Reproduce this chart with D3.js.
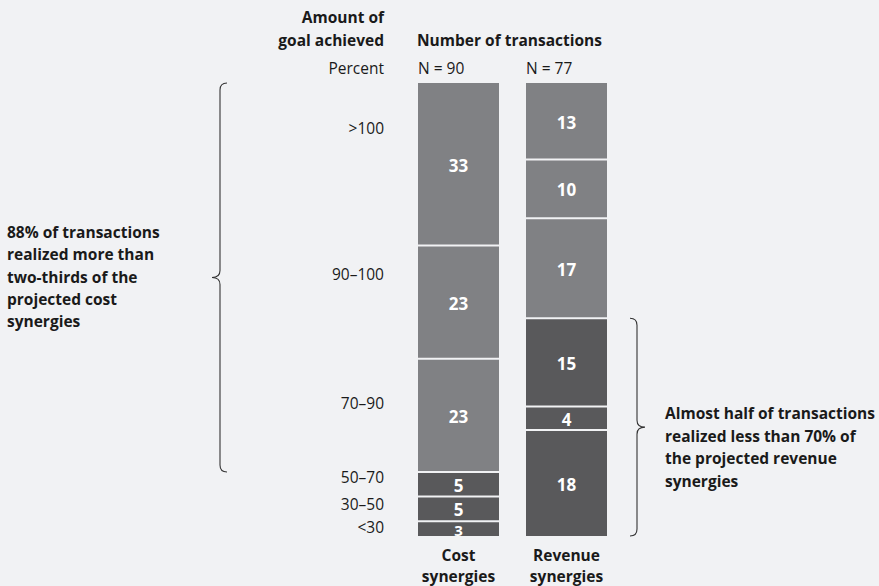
<!DOCTYPE html>
<html><head><meta charset="utf-8">
<script src="https://cdn.jsdelivr.net/npm/d3@7"></script>
<style>
body{margin:0;background:#f1f2f4;}
svg{display:block;font-family:"Open Sans",Lato,sans-serif;}
</style></head>
<body>
<script>
// Data (bottom to top)
const categories = ["<30","30–50","50–70","70–90","90–100",">100"];
const costValues = [3,5,5,23,23,33];
const revenueValues = [18,4,15,17,10,13];
const seriesNames = ["Cost synergies","Revenue synergies"];
const seriesN = ["N = 90","N = 77"];
const lowGroup = ["<30","30–50","50–70"];
// tick label anchors, percent of bar height
const tickPercent = [2.0,7.1,13.0,29.4,57.8,90.1];
const leftNote = ["88% of transactions","realized more than","two-thirds of the","projected cost","synergies"];
const rightNote = ["Almost half of transactions","realized less than 70% of","the projected revenue","synergies"];

const W=879,H=586;
const svg=d3.select("body").append("svg").attr("width",W).attr("height",H);
svg.append("rect").attr("width",W).attr("height",H).attr("fill","#f1f2f4");

const y=d3.scaleLinear().domain([0,100]).range([536,83]);
const x=d3.scaleBand().domain(seriesNames).range([418,607]).paddingInner(0.25).paddingOuter(0);
const color=c=>lowGroup.includes(c)?"#59595b":"#808184";
const ink="#1a1a1a";

const series=[costValues,revenueValues];
series.forEach((vals,si)=>{
  const total=d3.sum(vals);
  let cum=0;
  const segs=vals.map((v,i)=>{const s={cat:categories[i],v,p0:cum/total*100,p1:(cum+v)/total*100};cum+=v;return s;});
  const g=svg.append("g");
  const bx=x(seriesNames[si]), bw=x.bandwidth();
  g.selectAll("rect").data(segs).join("rect")
    .attr("x",bx).attr("width",bw)
    .attr("y",d=>y(d.p1)).attr("height",d=>y(d.p0)-y(d.p1))
    .attr("fill",d=>color(d.cat));
  g.selectAll("text").data(segs).join("text")
    .attr("x",bx+bw/2).attr("y",d=>y((d.p0+d.p1)/2)+1)
    .attr("text-anchor","middle").attr("dominant-baseline","central")
    .attr("fill","#fff").attr("font-weight","bold").attr("font-size",d=>(y(d.p0)-y(d.p1))<20?15:17)
    .text(d=>d.v);
  g.selectAll("line").data(segs.slice(1)).join("line")
    .attr("x1",bx).attr("x2",bx+bw)
    .attr("y1",d=>y(d.p0)).attr("y2",d=>y(d.p0))
    .attr("stroke","#f1f2f4").attr("stroke-width",2);
  svg.append("text").attr("x",bx).attr("y",68).attr("dominant-baseline","central")
    .attr("font-size",15.5).attr("fill",ink).text(seriesN[si]);
  const nm=seriesNames[si].split(" ");
  nm.forEach((t,k)=>svg.append("text").attr("x",bx+bw/2).attr("y",555+k*21)
    .attr("text-anchor","middle").attr("dominant-baseline","central")
    .attr("font-weight","bold").attr("font-size",15.5).attr("fill",ink).text(t));
});

// category tick labels
svg.append("g").selectAll("text").data(categories).join("text")
  .attr("x",384).attr("y",(d,i)=>y(tickPercent[i]))
  .attr("text-anchor","end").attr("dominant-baseline","central")
  .attr("font-size",15.5).attr("fill",ink).text(d=>d);

// headers
[["Amount of",17],["goal achieved",40]].forEach(([t,yy])=>svg.append("text").attr("x",384).attr("y",yy)
  .attr("text-anchor","end").attr("dominant-baseline","central").attr("font-weight","bold").attr("font-size",15.5).attr("fill",ink).text(t));
svg.append("text").attr("x",384).attr("y",68).attr("text-anchor","end").attr("dominant-baseline","central")
  .attr("font-size",15.5).attr("fill",ink).text("Percent");
svg.append("text").attr("x",417).attr("y",40).attr("dominant-baseline","central")
  .attr("font-weight","bold").attr("font-size",15.5).attr("fill",ink).text("Number of transactions");

// braces
function brace(xl,y0,y1,dir){
  const xe=xl-dir*7, xt=xl+dir*8, ym=(y0+y1)/2, r=7;
  return `M${xe},${y0} Q${xl},${y0} ${xl},${y0+r} L${xl},${ym-r} Q${xl},${ym} ${xt},${ym} Q${xl},${ym} ${xl},${ym+r} L${xl},${y1-r} Q${xl},${y1} ${xe},${y1}`;
}
const costTotal=d3.sum(costValues);
const costLow=d3.sum(costValues.slice(0,3));
svg.append("path").attr("d",brace(220,y(100),y(costLow/costTotal*100),-1))
  .attr("fill","none").attr("stroke","#333").attr("stroke-width",1.1);
const revTotal=d3.sum(revenueValues);
const revLow=d3.sum(revenueValues.slice(0,3));
svg.append("path").attr("d",brace(637,y(revLow/revTotal*100),y(0),1))
  .attr("fill","none").attr("stroke","#333").attr("stroke-width",1.1);

leftNote.forEach((t,k)=>svg.append("text").attr("x",7).attr("y",232+k*22.3).attr("dominant-baseline","central")
  .attr("font-weight","bold").attr("font-size",15.5).attr("fill",ink).text(t));
rightNote.forEach((t,k)=>svg.append("text").attr("x",665).attr("y",413+k*22.6).attr("dominant-baseline","central")
  .attr("font-weight","bold").attr("font-size",15.5).attr("fill",ink).text(t));
</script>
</body></html>
